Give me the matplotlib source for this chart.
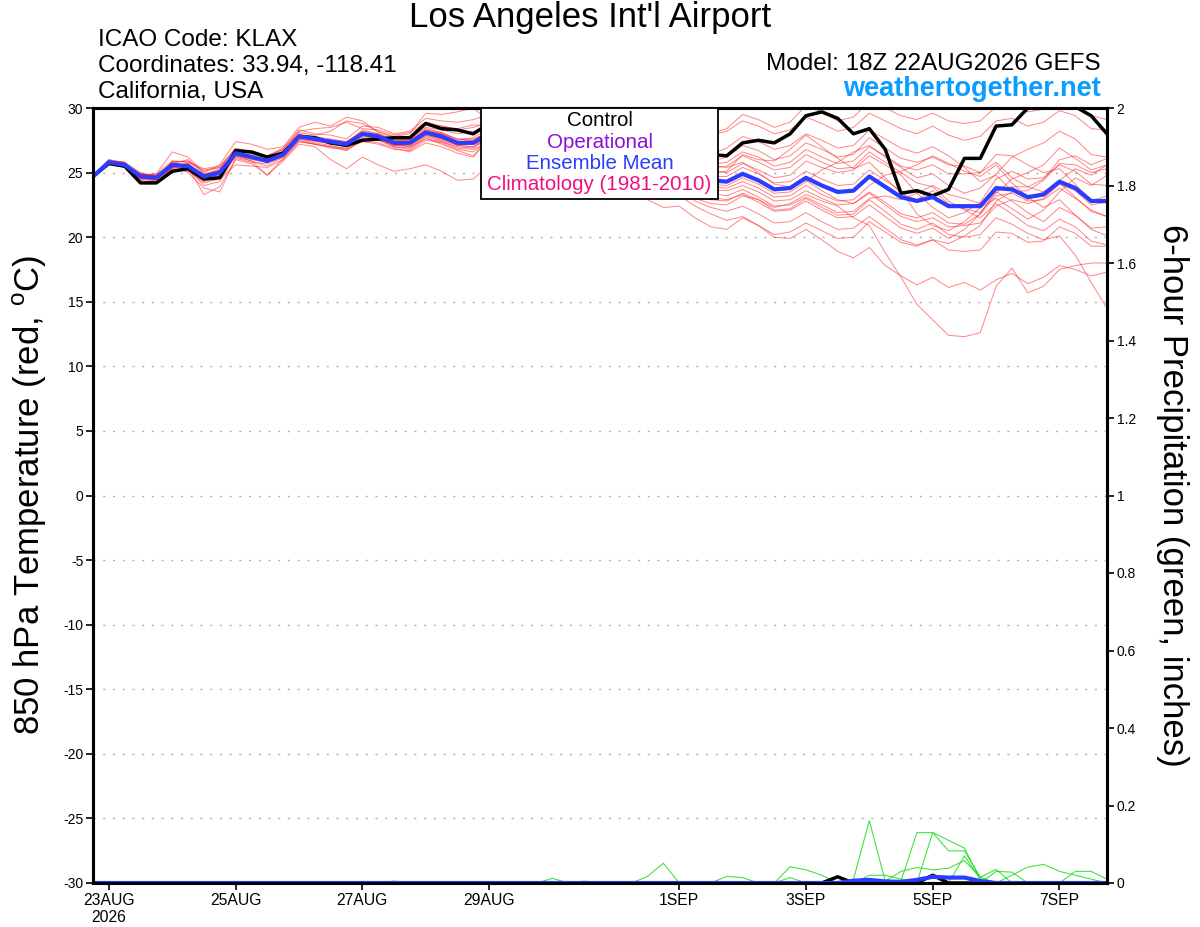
import numpy as np
import pandas as pd
import matplotlib
matplotlib.use('Agg')
import matplotlib.pyplot as plt
from matplotlib.patches import Rectangle

plt.rcParams['font.family'] = ['Liberation Sans', 'DejaVu Sans']
plt.rcParams['mathtext.fontset'] = 'custom'
plt.rcParams['mathtext.rm'] = 'Liberation Sans'
plt.rcParams['axes.unicode_minus'] = False

# 6-hourly forecast times, 22AUG 18Z -> 7SEP 18Z
times = pd.date_range('2026-08-22 18:00', periods=65, freq='6h')
tick_dates = pd.to_datetime(['2026-08-23', '2026-08-25', '2026-08-27', '2026-08-29',
                             '2026-09-01', '2026-09-03', '2026-09-05', '2026-09-07'])
tick_labels = ['23AUG\n2026', '25AUG', '27AUG', '29AUG', '1SEP', '3SEP', '5SEP', '7SEP']

# 850 hPa temperature (C): control run and ensemble mean
control_t = [24.7, 25.7, 25.5, 24.2, 24.2, 25.1, 25.3, 24.5, 24.6,
             26.7, 26.6, 26.2, 26.5, 27.8, 27.7, 27.3, 27.1, 27.5, 27.6, 27.7, 27.7, 28.8, 28.4, 28.3, 28.0,
             28.8, 28.5, 28.3, 28.4, 28.9, 28.2, 27.7, 27.6, 28.0, 27.3, 26.8, 26.6, 27.0, 26.5, 26.4,
             26.3, 27.3, 27.5, 27.3, 28.0, 29.4, 29.7, 29.2, 28.0, 28.4, 26.8, 23.4, 23.6, 23.2, 23.7,
             26.1, 26.1, 28.6, 28.7, 30.0, 30.6, 30.8, 30.1, 29.4, 28.0]
mean_t = [24.7, 25.8, 25.6, 24.7, 24.6, 25.6, 25.5, 24.7, 25.0,
          26.5, 26.2, 25.9, 26.4, 27.8, 27.6, 27.4, 27.2, 28.0, 27.8, 27.3, 27.3, 28.1, 27.8, 27.3, 27.3,
          28.0, 27.4, 27.1, 27.0, 27.4, 26.8, 26.4, 26.3, 26.6, 25.9, 25.3, 25.0, 25.2, 24.6, 24.4,
          24.3, 24.9, 24.4, 23.7, 23.8, 24.6, 24.0, 23.5, 23.6, 24.7, 23.9, 23.1, 22.8, 23.1, 22.4,
          22.4, 22.4, 23.8, 23.7, 23.1, 23.3, 24.3, 23.8, 22.8, 22.8]

# ensemble members (C)
m1 = ([24.8, 25.9, 25.7, 24.9, 24.8, 25.8, 25.9, 25.2, 25.4]
      + [26.8, 26.5, 26.3, 26.9, 28.3, 28.0, 27.9, 27.6, 28.6, 28.5, 28.0, 28.2, 29.2, 29.0, 28.9, 29.1]
      + [29.5, 29.0, 28.8, 28.7, 29.2, 28.6, 28.3, 28.2, 28.7, 28.1, 27.6, 27.5, 28.0, 27.8, 27.9,
         28.2, 29.0, 28.6, 28.0, 28.3, 29.3, 28.8, 28.2, 28.5, 29.6, 29.0, 28.4, 28.0, 28.6, 27.9,
         27.5, 27.8, 29.0, 29.2, 28.6, 28.9, 29.8, 29.4, 28.4, 28.3])
m2 = ([24.6, 25.7, 25.4, 24.5, 24.3, 25.3, 25.2, 24.2, 24.5]
      + [25.6, 25.5, 25.4, 26.0, 27.4, 27.2, 26.9, 26.8, 27.4, 27.2, 26.8, 26.7, 27.5, 27.3, 26.8, 26.6]
      + [27.6, 27.0, 26.6, 26.4, 26.8, 26.0, 25.5, 25.2, 25.4, 24.6, 23.9, 23.5, 23.8, 23.0, 22.6,
         22.5, 23.2, 22.9, 22.3, 22.6, 23.3, 22.8, 22.4, 21.5, 20.9, 18.8, 16.9, 14.8, 13.6, 12.4,
         12.3, 12.6, 16.2, 17.6, 15.7, 16.2, 17.5, 17.8, 18.0, 18.0])
m3 = ([24.7, 25.8, 25.6, 24.8, 24.9, 26.6, 26.2, 25.0, 25.6]
      + [27.4, 27.2, 26.8, 27.0, 28.5, 28.9, 28.6, 29.3, 29.0, 28.1, 27.8, 28.0, 29.6, 29.5, 29.7, 30.0]
      + [29.0, 28.7, 28.5, 28.6, 29.3, 28.9, 28.5, 28.6, 29.4, 28.8, 28.3, 28.0, 28.6, 28.2, 28.0,
         28.4, 29.5, 29.1, 28.5, 28.9, 30.2, 29.7, 29.0, 29.3, 30.5, 30.0, 29.4, 29.1, 29.6, 29.0,
         28.8, 29.0, 30.1, 30.3, 29.7, 29.9, 30.6, 30.2, 29.4, 29.1])
m4 = ([24.7, 26.0, 25.8, 24.6, 24.5, 25.5, 25.4, 23.3, 23.9]
      + [26.0, 25.7, 24.8, 25.9, 27.2, 27.0, 26.0, 25.3, 26.2, 25.6, 25.1, 25.3, 25.6, 25.1, 24.4, 24.5]
      + [25.6, 25.2, 25.0, 24.8, 25.3, 24.8, 24.4, 24.2, 24.6, 23.9, 23.3, 22.9, 23.2, 22.4, 21.8,
         21.3, 21.6, 20.9, 20.2, 20.4, 21.1, 20.5, 19.9, 20.0, 21.2, 20.4, 19.6, 19.3, 19.8, 19.5,
         20.1, 20.9, 22.8, 23.5, 23.6, 24.4, 25.7, 25.6, 25.0, 25.3])
m5 = ([24.8, 25.7, 25.5, 24.9, 24.7, 25.7, 25.6, 24.6, 25.1]
      + [26.6, 26.3, 26.0, 26.6, 28.0, 27.7, 27.5, 27.3, 28.1, 27.9, 27.4, 27.4, 28.3, 28.1, 27.6, 27.5]
      + [28.2, 27.6, 27.3, 27.2, 27.6, 27.1, 26.7, 26.5, 26.9, 26.2, 25.7, 25.4, 25.7, 25.2, 25.0,
         25.1, 26.4, 26.0, 25.9, 26.8, 27.9, 27.0, 26.1, 25.3, 25.8, 24.6, 23.4, 22.9, 23.6, 22.6,
         22.2, 21.9, 23.4, 24.5, 25.0, 25.6, 26.9, 26.1, 25.2, 25.6])
m6 = ([24.6, 25.9, 25.7, 24.4, 24.2, 25.4, 25.3, 24.0, 24.3]
      + [26.3, 25.9, 25.5, 26.2, 27.6, 27.4, 27.3, 27.0, 27.7, 27.5, 27.0, 26.8, 27.7, 27.2, 26.7, 26.3]
      + [27.7, 27.1, 26.9, 26.7, 27.0, 26.4, 25.9, 25.8, 26.0, 25.2, 24.5, 24.2, 24.4, 23.7, 23.4,
         23.2, 23.7, 23.1, 22.4, 22.5, 23.1, 22.5, 21.9, 22.0, 23.0, 23.2, 22.9, 23.4, 24.0, 23.3,
         23.0, 22.6, 23.5, 22.8, 21.9, 21.2, 22.3, 21.7, 20.7, 20.8])
m7 = ([24.7, 25.8, 25.6, 24.8, 24.9, 25.9, 25.8, 25.3, 25.5]
      + [26.9, 26.6, 26.2, 26.8, 28.1, 27.9, 28.2, 29.0, 28.8, 28.2, 27.7, 27.8, 28.8, 28.6, 28.4, 28.7]
      + [28.6, 28.1, 27.9, 27.8, 28.3, 27.7, 27.3, 27.2, 27.6, 27.0, 26.5, 26.2, 26.6, 26.0, 25.9,
         26.2, 27.1, 26.7, 26.0, 26.3, 27.3, 26.8, 26.2, 26.4, 27.7, 26.9, 26.1, 25.8, 26.2, 25.6,
         25.5, 25.0, 25.8, 24.6, 23.9, 23.5, 24.2, 23.1, 22.0, 21.6])
m8 = ([24.7, 25.6, 25.4, 24.7, 24.4, 25.6, 25.0, 23.8, 23.5]
      + [26.1, 25.8, 25.7, 26.2, 27.5, 27.2, 27.0, 26.9, 27.8, 27.6, 27.0, 26.9, 27.8, 27.4, 27.0, 26.9]
      + [27.8, 27.3, 26.9, 26.8, 27.2, 26.6, 26.1, 26.0, 26.3, 25.6, 24.9, 24.6, 24.8, 24.2, 23.9,
         23.8, 24.3, 23.8, 23.1, 23.2, 24.0, 23.3, 22.8, 22.9, 24.0, 24.8, 25.1, 25.6, 26.3, 25.7,
         25.1, 24.7, 25.6, 24.2, 23.1, 22.3, 22.9, 21.7, 20.6, 20.1])
m9 = ([24.8, 25.9, 25.8, 25.0, 24.7, 25.7, 26.0, 24.9, 25.2]
      + [26.7, 26.4, 26.1, 26.7, 27.9, 27.8, 27.6, 27.4, 28.2, 28.0, 27.6, 27.7, 28.5, 28.3, 28.0, 28.2]
      + [28.4, 27.8, 27.6, 27.5, 27.9, 27.4, 27.0, 26.9, 27.3, 26.6, 26.0, 25.8, 26.1, 25.5, 25.4,
         25.5, 26.3, 25.8, 25.2, 25.4, 26.4, 25.8, 25.3, 25.4, 26.6, 25.8, 25.0, 24.2, 23.9, 22.8,
         22.1, 21.5, 22.6, 21.8, 20.9, 20.5, 21.4, 20.8, 19.7, 19.4])
m10 = ([24.6, 25.8, 25.5, 24.5, 24.6, 25.4, 25.6, 24.5, 24.8]
       + [26.4, 26.1, 25.8, 26.3, 27.7, 27.5, 27.2, 27.1, 27.9, 27.6, 27.1, 27.0, 27.9, 27.5, 27.1, 27.0]
       + [27.5, 27.0, 26.7, 26.5, 26.9, 26.2, 25.7, 25.5, 25.8, 25.0, 24.2, 23.8, 24.0, 23.3, 22.9,
          22.8, 23.4, 22.9, 22.1, 22.2, 23.0, 22.3, 21.7, 21.8, 22.9, 22.0, 21.0, 20.6, 21.1, 20.2,
          20.0, 20.2, 21.5, 21.0, 20.3, 19.8, 20.1, 18.6, 16.5, 14.5])
m11 = ([24.7, 25.7, 25.6, 24.8, 24.5, 25.8, 25.4, 24.8, 25.3]
       + [26.5, 26.3, 26.0, 26.5, 27.8, 27.5, 27.4, 27.2, 28.0, 27.8, 27.3, 27.3, 28.0, 27.7, 27.3, 27.2]
       + [28.3, 27.8, 27.5, 27.4, 27.9, 27.3, 27.0, 26.9, 27.3, 26.7, 26.1, 25.9, 26.2, 25.7, 25.5,
          25.4, 25.8, 25.0, 24.1, 23.9, 24.4, 23.6, 22.9, 22.6, 23.4, 22.5, 21.6, 21.2, 21.5, 20.8,
          20.9, 21.1, 22.4, 22.9, 22.6, 23.0, 24.1, 23.6, 22.5, 22.7])
m12 = ([24.7, 25.9, 25.7, 24.6, 24.8, 25.5, 25.7, 24.4, 24.9]
       + [26.6, 26.2, 25.9, 26.4, 27.9, 27.7, 27.3, 27.3, 28.3, 28.0, 27.5, 27.5, 28.2, 28.0, 27.4, 27.5]
       + [28.3, 27.7, 27.4, 27.3, 27.8, 27.2, 26.8, 26.7, 27.1, 26.4, 25.8, 25.5, 25.9, 25.3, 25.1,
          25.0, 25.7, 25.2, 24.6, 24.8, 25.9, 25.4, 25.0, 25.2, 26.3, 25.6, 24.8, 23.4, 22.3, 21.5,
          21.9, 22.7, 24.5, 25.1, 24.5, 24.6, 25.6, 25.1, 24.1, 24.0])
m13 = ([24.8, 25.8, 25.5, 24.9, 24.6, 25.6, 25.3, 24.7, 25.0]
       + [26.3, 26.0, 25.8, 26.3, 27.6, 27.3, 27.1, 26.8, 27.6, 27.5, 27.2, 27.0, 27.6, 27.4, 26.9, 26.8]
       + [27.3, 26.7, 26.3, 26.1, 26.3, 25.5, 25.0, 24.6, 24.7, 23.8, 22.9, 22.3, 22.4, 21.5, 20.8,
          20.6, 21.5, 20.9, 20.0, 19.9, 20.6, 19.8, 18.9, 18.4, 19.2, 17.8, 17.0, 16.3, 16.9, 16.1,
          16.5, 15.9, 16.7, 17.2, 16.4, 16.9, 17.8, 17.5, 17.0, 17.3])
m14 = ([24.6, 25.7, 25.6, 24.7, 24.3, 25.9, 25.8, 25.1, 25.4]
       + [26.8, 26.5, 26.3, 26.8, 28.2, 28.4, 28.5, 28.9, 28.4, 28.3, 27.9, 28.1, 28.9, 28.6, 28.3, 28.5]
       + [28.9, 28.4, 28.1, 28.1, 28.6, 28.0, 27.6, 27.5, 28.0, 27.4, 26.9, 26.7, 27.1, 26.5, 26.4,
          26.9, 27.8, 27.4, 26.8, 27.1, 28.0, 27.5, 26.9, 27.1, 28.3, 27.6, 26.9, 26.5, 27.0, 26.3,
          25.4, 24.3, 24.8, 23.6, 22.9, 23.5, 24.4, 25.3, 24.8, 25.6])
m15 = ([24.7, 25.9, 25.8, 24.6, 24.7, 25.3, 25.1, 24.3, 24.7]
       + [26.2, 25.9, 24.8, 26.1, 27.4, 27.2, 27.0, 26.7, 27.5, 27.3, 26.9, 26.6, 27.3, 27.0, 26.5, 26.2]
       + [27.6, 27.1, 26.8, 26.6, 26.9, 26.3, 25.8, 25.6, 25.8, 25.0, 24.3, 23.9, 24.1, 23.4, 23.1,
          22.9, 23.3, 22.7, 22.0, 22.1, 22.8, 22.1, 21.5, 21.6, 22.5, 21.6, 20.7, 20.3, 20.7, 19.9,
          20.6, 21.8, 23.2, 23.4, 22.8, 22.9, 23.8, 23.0, 22.1, 21.6])
m16 = ([24.7, 25.8, 25.6, 24.8, 24.6, 25.6, 25.6, 24.9, 25.1]
       + [26.5, 26.2, 25.9, 26.5, 27.9, 27.7, 27.5, 27.4, 28.1, 27.9, 27.4, 27.5, 28.3, 28.0, 27.6, 27.6]
       + [28.1, 27.5, 27.2, 27.1, 27.5, 26.9, 26.5, 26.4, 26.8, 26.1, 25.5, 25.2, 25.5, 24.9, 24.7,
          24.7, 25.4, 24.9, 24.2, 24.3, 25.1, 24.5, 24.0, 24.1, 25.2, 24.4, 23.6, 21.8, 20.9, 20.5,
          21.2, 22.3, 23.0, 22.2, 21.4, 22.1, 23.5, 24.6, 24.0, 24.8])
m17 = ([24.8, 25.7, 25.4, 24.5, 24.5, 25.7, 25.2, 24.6, 25.2]
       + [26.6, 26.3, 25.9, 26.4, 27.7, 27.6, 27.4, 27.3, 27.9, 27.7, 27.2, 27.2, 28.0, 27.6, 27.3, 27.4]
       + [27.8, 27.2, 26.9, 26.8, 27.1, 26.5, 26.1, 25.9, 26.2, 25.5, 24.8, 24.4, 24.6, 24.0, 23.7,
          23.6, 24.0, 23.5, 22.8, 22.9, 23.6, 23.0, 22.5, 22.6, 23.5, 22.7, 21.8, 21.5, 21.9, 21.1,
          21.0, 21.8, 23.6, 23.9, 23.9, 24.5, 26.0, 26.3, 25.6, 26.1])
m18 = ([24.6, 26.0, 25.7, 24.7, 24.8, 25.5, 25.7, 24.8, 24.9]
       + [26.4, 26.1, 26.0, 26.6, 27.8, 27.6, 27.5, 27.2, 28.1, 27.9, 27.5, 27.6, 28.4, 28.1, 27.5, 27.7]
       + [28.5, 27.9, 27.7, 27.6, 28.1, 27.5, 27.1, 27.0, 27.5, 26.8, 26.2, 26.0, 26.4, 25.8, 25.6,
          25.8, 26.6, 26.2, 25.5, 25.8, 26.8, 26.2, 25.7, 25.9, 27.0, 26.3, 25.5, 25.2, 25.6, 24.9,
          24.9, 25.0, 26.4, 26.3, 25.6, 25.0, 25.3, 24.1, 22.8, 23.2])
m19 = ([24.7, 25.8, 25.5, 24.6, 24.4, 25.4, 25.5, 24.5, 25.0]
       + [26.3, 26.1, 25.8, 26.3, 27.7, 27.5, 27.2, 27.1, 27.9, 27.7, 27.1, 27.1, 27.9, 27.6, 27.1, 27.0]
       + [27.9, 27.3, 27.0, 26.9, 27.3, 26.7, 26.3, 26.1, 26.5, 25.7, 25.1, 24.8, 25.0, 24.4, 24.1,
          24.0, 24.6, 24.1, 23.4, 23.5, 24.3, 25.2, 25.8, 26.6, 27.1, 26.2, 25.4, 24.6, 24.9, 24.0,
          23.4, 23.8, 24.9, 26.2, 26.8, 27.3, 28.2, 27.6, 26.4, 26.2])
m20 = ([24.7, 25.7, 25.7, 24.9, 24.7, 25.6, 25.4, 24.7, 24.6]
       + [26.4, 26.2, 25.9, 26.4, 27.8, 27.5, 27.3, 27.2, 28.0, 27.8, 27.3, 27.2, 28.1, 27.7, 27.2, 27.2]
       + [27.5, 26.9, 26.6, 26.4, 26.7, 26.0, 25.5, 25.3, 25.5, 24.6, 23.8, 23.4, 23.6, 22.8, 22.3,
          22.0, 22.4, 21.8, 21.1, 21.2, 21.9, 21.2, 20.6, 20.7, 21.6, 20.7, 19.8, 19.4, 19.8, 19.0,
          18.9, 19.0, 20.4, 20.3, 19.6, 19.7, 20.8, 20.3, 19.3, 19.3])
members_t = [m1, m2, m3, m4, m5, m6, m7, m8, m9, m10,
             m11, m12, m13, m14, m15, m16, m17, m18, m19, m20]

# 6-hour precipitation (inches); members not listed stay dry
p1 = [0] * 35 + [0.017, 0.051] + [0] * 28
p2 = [0] * 40 + [0.017, 0.014, 0, 0, 0.042, 0.034, 0.02] + [0] * 18
p3 = [0] * 48 + [0.01, 0.161, 0.005] + [0] * 14
p4 = [0] * 51 + [0.005, 0.13, 0.13, 0.11, 0.09, 0.01] + [0] * 8
p5 = [0] * 52 + [0.0, 0.13, 0.083, 0.083, 0.015] + [0] * 8
p6 = [0] * 50 + [0.005, 0.03, 0.04, 0.034, 0.038, 0.058, 0.015, 0.035] + [0] * 7
p7 = [0] * 44 + [0.014, 0, 0, 0, 0, 0.02, 0.02, 0.01, 0, 0, 0, 0.07, 0.01, 0, 0.02,
                 0.041, 0.048, 0.03, 0.02, 0.01, 0]
p8 = ([0] * 19 + [0.005] + [0] * 9 + [0.012, 0, 0.005] + [0] * 25
      + [0.03, 0.028, 0, 0, 0, 0.03, 0.03, 0.01])
members_p = [p1, p2, p3, p4, p5, p6, p7, p8]
control_p = [0] * 47 + [0.016] + [0] * 5 + [0.02] + [0] * 11
mean_p = [0] * 48 + [0.006, 0.008, 0.004, 0.003, 0.008, 0.016, 0.014, 0.014, 0.005] + [0] * 8

W, H = 1200, 927
fig = plt.figure(figsize=(W / 100, H / 100), dpi=100)
ax = fig.add_axes([93 / W, 44 / H, 1014 / W, 775 / H])

for m in members_t:
    ax.plot(times, m, color='#ff2020', lw=0.7, alpha=0.55, zorder=2)
ax.plot(times, control_t, color='black', lw=2.5, zorder=4)
ax.plot(times, mean_t, color='#2a3cff', lw=3, zorder=5)

ax.set_xlim(times[0], times[-1])
ax.set_ylim(-30, 30)
ax.set_yticks(range(-30, 31, 5))
ax.set_xticks(tick_dates)
ax.set_xticklabels(tick_labels, fontsize=11.3)
ax.grid(axis='y', color='#b0b0b0', linestyle=(0, (1.5, 5.5)), lw=1.0)
ax.set_axisbelow(True)
ax.tick_params(axis='y', labelsize=10, length=5, width=1.2, pad=2)
ax.tick_params(axis='x', length=5, width=1.2, pad=2)

ax2 = ax.twinx()
for p in members_p:
    ax2.plot(times, p, color='#22dd22', lw=0.8, alpha=0.85)
ax2.plot(times, control_p, color='black', lw=2.5)
ax2.plot(times, mean_p, color='#2a3cff', lw=3)
ax2.set_ylim(0, 2)
pticks = np.arange(0, 2.01, 0.2)
ax2.set_yticks(pticks)
ax2.set_yticklabels([f'{v:g}' for v in np.round(pticks, 1)])
ax2.tick_params(axis='y', labelsize=10, length=5, width=1.2, pad=2)
ax2.set_xlim(times[0], times[-1])

for a in (ax, ax2):
    for s in a.spines.values():
        s.set_linewidth(2.2)

# legend box drawn over the lines
fig.add_artist(Rectangle((481 / W, 1 - 199 / H), 237 / W, 91 / H, transform=fig.transFigure,
                         facecolor='white', edgecolor='black', lw=1.3, zorder=5))
legend_items = [('Control', 'black'), ('Operational', '#8a10d8'),
                ('Ensemble Mean', '#2a3cff'), ('Climatology (1981-2010)', '#ee1080')]
for k, (txt, col) in enumerate(legend_items):
    fig.text(599.5 / W, 1 - (121 + 21.3 * k) / H, txt, color=col, fontsize=14.8,
             ha='center', va='center', zorder=6)

fig.text(590 / W, 1 - 18 / H, "Los Angeles Int'l Airport", fontsize=25, ha='center', va='center')
fig.text(98 / W, 1 - 40 / H, 'ICAO Code: KLAX', fontsize=17.5, ha='left', va='center')
fig.text(98 / W, 1 - 66 / H, 'Coordinates: 33.94, -118.41', fontsize=17.5, ha='left', va='center')
fig.text(98 / W, 1 - 92 / H, 'California, USA', fontsize=17.5, ha='left', va='center')
fig.text(1101 / W, 1 - 64 / H, 'Model: 18Z 22AUG2026 GEFS', fontsize=17.5, ha='right', va='center')
fig.text(1101 / W, 1 - 89 / H, 'weathertogether.net', fontsize=19.5, fontweight='bold',
         color='#0a9cff', ha='right', va='center')

fig.text(30 / W, 1 - 495 / H, r'850 hPa Temperature (red, $^{\rm o}$C)', fontsize=25,
         rotation=90, ha='center', va='center')
fig.text(1172 / W, 1 - 495 / H, '6-hour Precipitation (green, inches)', fontsize=25,
         rotation=270, ha='center', va='center')

fig.savefig('out.png', dpi=100)
